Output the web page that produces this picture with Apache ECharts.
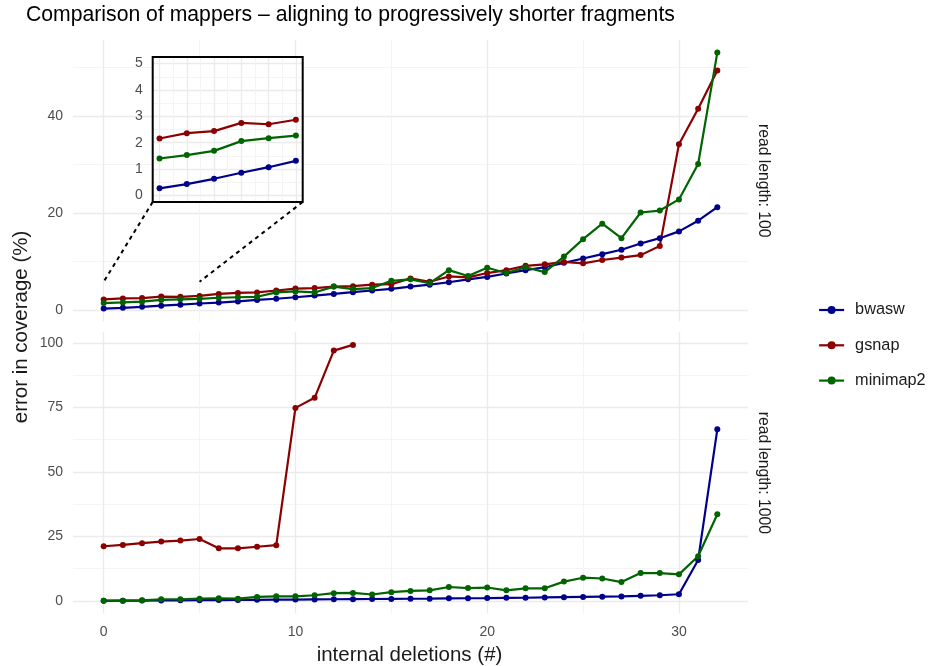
<!DOCTYPE html>
<html>
<head>
<meta charset="utf-8">
<script src="https://cdn.jsdelivr.net/npm/echarts@6/dist/echarts.min.js"></script>
<style>
  html, body { margin: 0; padding: 0; background: #fff; }
  #chart { width: 932px; height: 666px; }
</style>
</head>
<body>
<div id="chart"></div>
<script>
// ---- data -------------------------------------------------------------
const deletions = [0, 1, 2, 3, 4, 5, 6, 7, 8, 9, 10, 11, 12, 13, 14, 15, 16,
                   17, 18, 19, 20, 21, 22, 23, 24, 25, 26, 27, 28, 29, 30, 31, 32];
const mappers = ['bwasw', 'gsnap', 'minimap2'];

// read length: 100
const bwasw100 = [0.27, 0.43, 0.63, 0.86, 1.07, 1.31, 1.5, 1.75, 2.05, 2.3, 2.6,
                  2.95, 3.3, 3.65, 4.0, 4.35, 4.8, 5.2, 5.7, 6.3, 6.8, 7.5, 8.2,
                  8.8, 9.7, 10.6, 11.5, 12.4, 13.7, 14.8, 16.2, 18.4, 21.2];
const gsnap100 = [2.16, 2.36, 2.44, 2.75, 2.70, 2.87, 3.3, 3.5, 3.6, 4.0, 4.4,
                  4.5, 4.8, 4.9, 5.2, 5.3, 6.5, 5.8, 6.9, 6.7, 7.6, 8.2, 9.1,
                  9.4, 9.9, 9.6, 10.3, 10.8, 11.3, 13.2, 34.2, 41.5, 49.4];
const minimap100 = [1.40, 1.53, 1.69, 2.06, 2.17, 2.27, 2.5, 2.6, 2.7, 3.6, 3.8,
                    3.6, 4.8, 4.3, 4.5, 6.0, 6.3, 5.5, 8.2, 7.0, 8.7, 7.6, 8.8,
                    7.8, 11.0, 14.6, 17.8, 14.8, 20.1, 20.5, 22.8, 30.1, 53.1];

// read length: 1000
const bwasw1000 = [0.05, 0.1, 0.15, 0.2, 0.25, 0.3, 0.35, 0.4, 0.45, 0.5, 0.55,
                   0.6, 0.65, 0.7, 0.75, 0.8, 0.85, 0.9, 1.0, 1.05, 1.1, 1.2,
                   1.25, 1.35, 1.45, 1.55, 1.65, 1.75, 2.0, 2.2, 2.6, 15.9, 66.5];
const gsnap1000 = [21.2, 21.7, 22.4, 23.0, 23.4, 24.0, 20.4, 20.4, 21.0, 21.6,
                   74.8, 78.7, 97.0, 99.2];
const minimap1000 = [0.1, 0.1, 0.25, 0.65, 0.65, 0.9, 1.05, 0.9, 1.55, 1.8, 1.8,
                     2.2, 3.0, 3.1, 2.5, 3.4, 3.9, 4.1, 5.4, 5.0, 5.2, 4.1, 4.9,
                     4.9, 7.5, 9.0, 8.7, 7.3, 10.8, 10.8, 10.3, 17.3, 33.6];

// tick positions
const xTicks = [0, 10, 20, 30];
const xMinorTicks = [5, 15, 25];
const yTicks100 = [0, 20, 40];
const yMinorTicks100 = [10, 30, 50];
const yTicks1000 = [0, 25, 50, 75, 100];
const yMinorTicks1000 = [12.5, 37.5, 62.5, 87.5];
const insetTicks = [0, 1, 2, 3, 4, 5];
const insetMinorTicks = [0.5, 1.5, 2.5, 3.5, 4.5];

// region of the top panel magnified by the inset
const zoomX = [0, 5];
const zoomYTop = 5.8;

// ---- styling / layout -------------------------------------------------
const FONT = '"Liberation Sans", Arial, Helvetica, sans-serif';
const COLORS = { bwasw: '#00008b', gsnap: '#8b0000', minimap2: '#006400' };
const PANEL = { left: 73, width: 675 };
const TOP = { top: 40, height: 281.5 };
const BOT = { top: 332, height: 281.6 };
const INSET = { left: 152.7, top: 57, width: 150, height: 145 };

const xRange = [-1.6, 33.6];
const yRange100 = [-2.4, 55.7];
const yRange1000 = [-4.9, 104.2];
const insetRange = [-0.25, 5.25];

function axis(type, gridIndex, range, ticks, o) {
  return {
    type: 'value', gridIndex, min: range[0], max: range[1],
    axisLine: { show: false },
    axisTick: { show: false, customValues: ticks },
    axisLabel: {
      show: !!o.labels, customValues: ticks, color: '#4d4d4d',
      fontSize: 14, fontFamily: FONT, margin: o.margin || 10
    },
    splitLine: {
      show: true,
      lineStyle: { color: o.minor ? '#f3f3f3' : '#ebebeb', width: o.minor ? 0.9 : 1.3 }
    },
    z: o.z || 0,
    silent: true
  };
}

const xAxes = [
  axis('x', 0, xRange, xTicks, {}),
  axis('x', 0, xRange, xMinorTicks, { minor: true }),
  axis('x', 1, xRange, xTicks, { labels: true, margin: 12 }),
  axis('x', 1, xRange, xMinorTicks, { minor: true }),
  axis('x', 2, insetRange, insetTicks, { z: 4 }),
  axis('x', 2, insetRange, insetMinorTicks, { minor: true, z: 4 })
];
const yAxes = [
  axis('y', 0, yRange100, yTicks100, { labels: true }),
  axis('y', 0, yRange100, yMinorTicks100, { minor: true }),
  axis('y', 1, yRange1000, yTicks1000, { labels: true }),
  axis('y', 1, yRange1000, yMinorTicks1000, { minor: true }),
  axis('y', 2, insetRange, insetTicks, { labels: true, z: 4 }),
  axis('y', 2, insetRange, insetMinorTicks, { minor: true, z: 4 })
];

function line(name, axisIndex, values, z) {
  const c = COLORS[name];
  return {
    type: 'line', name, xAxisIndex: axisIndex, yAxisIndex: axisIndex,
    data: values.map((v, i) => [deletions[i], v]),
    symbol: 'circle', symbolSize: 6, showSymbol: true,
    lineStyle: { width: 2.2, color: c }, itemStyle: { color: c },
    emphasis: { disabled: true }, z, animation: false
  };
}
const inZoom = (vals) => vals.filter((v, i) => deletions[i] >= zoomX[0] && deletions[i] <= zoomX[1]);

const series = [
  line('bwasw', 0, bwasw100, 2),
  line('gsnap', 0, gsnap100, 2),
  line('minimap2', 0, minimap100, 2),
  line('bwasw', 2, bwasw1000, 2),
  line('gsnap', 2, gsnap1000, 2),
  line('minimap2', 2, minimap1000, 2),
  line('bwasw', 4, inZoom(bwasw100), 5),
  line('gsnap', 4, inZoom(gsnap100), 5),
  line('minimap2', 4, inZoom(minimap100), 5)
];

const chart = echarts.init(document.getElementById('chart'), null, { renderer: 'canvas' });
chart.setOption({
  animation: false,
  backgroundColor: '#ffffff',
  title: {
    text: 'Comparison of mappers \u2013 aligning to progressively shorter fragments',
    left: 26, top: 5, padding: 0,
    textStyle: { fontFamily: FONT, fontSize: 21.2, fontWeight: 'normal', color: '#000' }
  },
  grid: [
    { left: PANEL.left, width: PANEL.width, top: TOP.top, height: TOP.height, containLabel: false },
    { left: PANEL.left, width: PANEL.width, top: BOT.top, height: BOT.height, containLabel: false },
    { left: INSET.left, width: INSET.width, top: INSET.top, height: INSET.height, containLabel: false }
  ],
  xAxis: xAxes,
  yAxis: yAxes,
  legend: {
    data: mappers, orient: 'vertical', left: 813, top: 297, padding: 5,
    itemWidth: 25, itemHeight: 10, itemGap: 19.3,
    selectedMode: false,
    lineStyle: { width: 2.2 },
    textStyle: { fontFamily: FONT, fontSize: 16.3, lineHeight: 14, color: '#1a1a1a', padding: [0, 0, 0, 6] }
  },
  series
});

// inset backdrop, frame, connectors and free-standing labels
const p = (axisIndex, pt) => chart.convertToPixel({ xAxisIndex: axisIndex, yAxisIndex: axisIndex }, pt);
const cornerBL = p(4, [insetRange[0], insetRange[0]]);
const cornerTR = p(4, [insetRange[1], insetRange[1]]);
const cornerBR = [cornerTR[0], cornerBL[1]];
const anchorL = p(0, [zoomX[0], zoomYTop]);
const anchorR = p(0, [zoomX[1], zoomYTop]);

const dashed = { stroke: '#000', lineWidth: 2, lineDash: [4, 4] };
const txt = (text, x, y, size, rotation) => ({
  type: 'text', x, y, rotation: rotation || 0, silent: true,
  style: { text, fill: '#1a1a1a', font: size + 'px ' + FONT, align: 'center', verticalAlign: 'middle' }
});

chart.setOption({
  graphic: [
    { type: 'rect', z: 3, silent: true,
      shape: { x: cornerBL[0], y: cornerTR[1], width: cornerTR[0] - cornerBL[0], height: cornerBL[1] - cornerTR[1] },
      style: { fill: '#fff' } },
    { type: 'rect', z: 6, silent: true,
      shape: { x: cornerBL[0], y: cornerTR[1], width: cornerTR[0] - cornerBL[0], height: cornerBL[1] - cornerTR[1] },
      style: { fill: 'none', stroke: '#000', lineWidth: 2 } },
    { type: 'line', z: 3, silent: true,
      shape: { x1: cornerBL[0], y1: cornerBL[1], x2: anchorL[0], y2: anchorL[1] }, style: dashed },
    { type: 'line', z: 3, silent: true,
      shape: { x1: cornerBR[0], y1: cornerBR[1], x2: anchorR[0], y2: anchorR[1] }, style: dashed },
    txt('error in coverage (%)', 21, 327, 20.5, Math.PI / 2),
    txt('internal deletions (#)', PANEL.left + PANEL.width / 2 - 1, 655, 20.5, 0),
    txt('read length: 100', 763, TOP.top + TOP.height / 2, 15.7, -Math.PI / 2),
    txt('read length: 1000', 763, BOT.top + BOT.height / 2, 15.7, -Math.PI / 2)
  ]
});
</script>
</body>
</html>
